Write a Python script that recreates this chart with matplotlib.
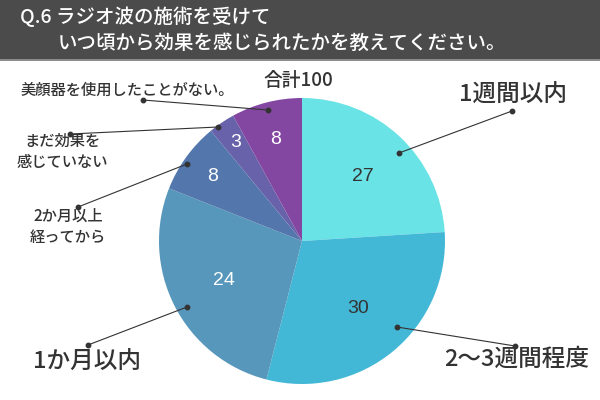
import matplotlib
matplotlib.use("Agg")
import matplotlib.pyplot as plt
import numpy as np
from matplotlib.patches import Rectangle

plt.rcParams['font.family'] = ['Noto Sans CJK JP', 'DejaVu Sans']
plt.rcParams['font.weight'] = 'medium'

# データ
categories = ["1週間以内", "2〜3週間程度", "1か月以内", "2か月以上\n経ってから",
              "まだ効果を\n感じていない", "美顔器を使用したことがない。"]
# 元の図では「27」と「24」の扇形の大きさが入れ替わって描かれている
wedge_sizes = [24, 30, 27, 8, 3, 8]
shown_values = ["27", "30", "24", "8", "3", "8"]
total_label = "合計100"
title_lines = ["Q.6 ラジオ波の施術を受けて", "いつ頃から効果を感じられたかを教えてください。"]

colors = ["#6ae3e6", "#42b8d6", "#5797bb", "#5377ad", "#6762aa", "#8447a1"]
value_colors = ["#333333", "#333333", "white", "white", "white", "white"]
value_r = [0.62, 0.61, 0.61, 0.77, 0.83, 0.73]

# ラベル配置 (ピクセル座標)
label_pos = [(513, 95), (517, 359), (87, 362), (68, 227), (62, 152), (127, 90)]
label_size = [17, 17, 17, 11, 11, 11]
line_start = [(399, 153), (397, 327), (187, 307), (187, 164), (218, 127), (268, 110)]
line_end = [(512, 111), (515, 346), (88, 345), (78, 207), (70, 134), (143, 100)]

W, H = 600, 400
cx, cy, R = 302, 241, 143

fig = plt.figure(figsize=(6, 4), dpi=100)
fig.patch.set_facecolor("white")

ax = fig.add_axes([(cx - R) / W, 1 - (cy + R) / H, 2 * R / W, 2 * R / H])
wedges, _ = ax.pie(wedge_sizes, colors=colors, startangle=90, counterclock=False,
                   radius=1, wedgeprops=dict(linewidth=0))
ax.set_xlim(-1, 1)
ax.set_ylim(-1, 1)
ax.axis("off")

for w, txt, col, r in zip(wedges, shown_values, value_colors, value_r):
    ang = np.deg2rad((w.theta1 + w.theta2) / 2)
    ax.text(r * np.cos(ang), r * np.sin(ang), txt, color=col, fontsize=14,
            family=['Liberation Sans', 'DejaVu Sans'], ha="center", va="center")

# 上に重ねる座標軸 (ピクセル単位)
ov = fig.add_axes([0, 0, 1, 1])
ov.set_xlim(0, W)
ov.set_ylim(H, 0)
ov.axis("off")
ov.patch.set_alpha(0)

ov.add_patch(Rectangle((0, 0), W, 59, color="#4b4b4b", lw=0))
ov.add_patch(Rectangle((0, 59), W, 2, color="#8c8c8c", lw=0))
ov.text(20, 17, title_lines[0], color="white", fontsize=14, va="center", ha="left")
ov.text(58, 43, title_lines[1], color="white", fontsize=14, va="center", ha="left")

ov.text(298, 80, total_label, color="#333333", fontsize=13.5, ha="center", va="center")

for lab, pos, fs, s, e in zip(categories, label_pos, label_size, line_start, line_end):
    ov.plot([s[0], e[0]], [s[1], e[1]], color="#333333", lw=0.8)
    ov.plot([s[0], e[0]], [s[1], e[1]], "o", color="#333333", ms=3.2)
    ov.text(pos[0], pos[1], lab, color="#333333", fontsize=fs, ha="center",
            va="center", linespacing=1.3)

fig.savefig("out.png", dpi=100)
